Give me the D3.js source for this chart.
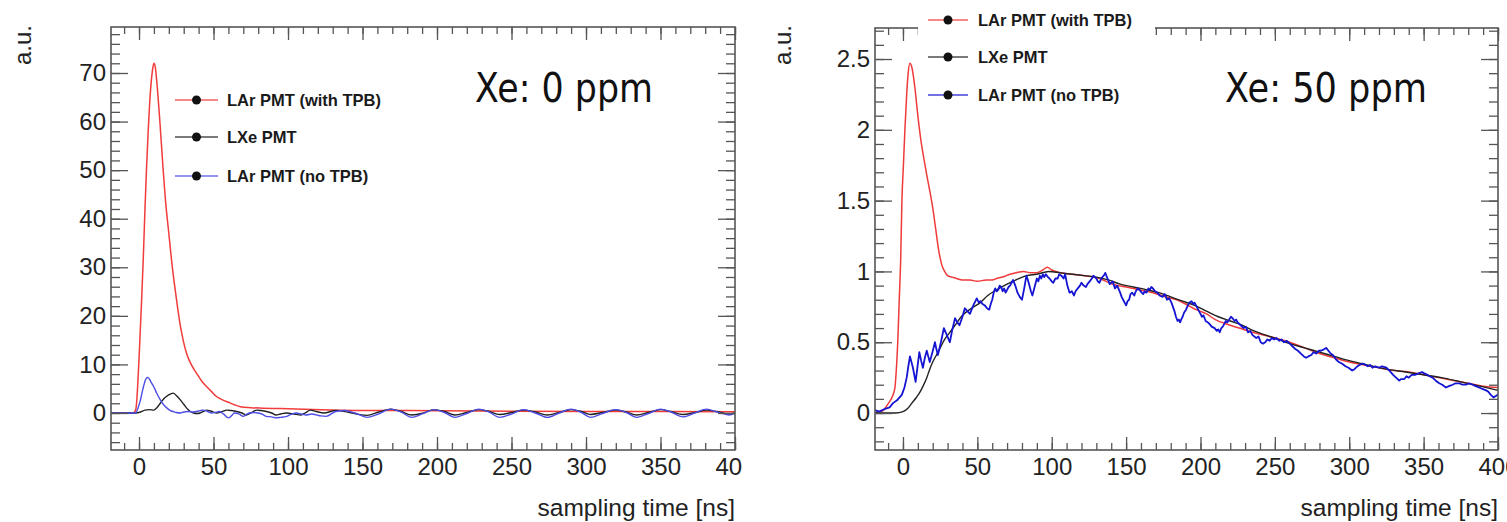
<!DOCTYPE html>
<html><head><meta charset="utf-8">
<script src="https://cdn.jsdelivr.net/npm/d3@7"></script>
<style>html,body{margin:0;padding:0;background:#fff;}svg{display:block;}</style>
</head><body>
<svg id="chart" width="1507" height="522"></svg>
<script>
// ---------------- DATA ----------------
const seriesNames = ["LAr PMT (with TPB)", "LXe PMT", "LAr PMT (no TPB)"];
const panelTitles = ["Xe: 0 ppm", "Xe: 50 ppm"];
const xTitle = "sampling time [ns]";
const yTitle = "a.u.";
const xMajorTicks = [0, 50, 100, 150, 200, 250, 300, 350, 400];
const yMajorTicks0 = [0, 10, 20, 30, 40, 50, 60, 70];
const yMajorTicks50 = [0, 0.5, 1, 1.5, 2, 2.5];

// Xe: 0 ppm
const larTpb0 = [[-18.8,0],[-10,0],[-4,0],[-3,0.2],[-2,1],[-1,5],[0,11],[1,18],[2,25],[3,33],[4,42],[5,50],[6,57],[7,63],[8,67.5],[9,70.5],[10,72],[11,71],[12,68],[14,60],[16,51],[18,43],[20,37],[22,31],[24,26],[26,21.5],[28,17.5],[30,14.5],[32,12.2],[35,10],[39,8],[42,6.6],[45.5,5.4],[49,4.3],[52,3.4],[56,2.7],[60,2.2],[64,1.7],[68,1.3],[75,1.1],[83,1],[95,0.9],[105,0.8],[128,0.6],[150,0.5],[175,0.5],[200,0.45],[250,0.35],[300,0.3],[350,0.3],[400,0.25]];
const lxe0 = [[-18.8,0],[-5,0],[-2,0],[1,0.2],[4,0.6],[7,0.7],[10,0.6],[12,1.1],[14.3,2],[16.5,2.9],[18.8,3.5],[21,3.9],[23,4.1],[25,3.6],[27.7,2.7],[30,1.8],[32,1],[34,0.4],[36.5,0],[39,-0.1],[41,0],[43,0.3],[45.5,0.6],[48,0.4],[52,0],[55,0.2],[59,0.6],[62,0.5],[65.5,0.3],[69,0],[72,-0.4],[75,0],[79,0.6],[82,0.5],[85.5,0.3],[89,0],[92,-0.4],[95,-0.2],[99,0],[104,-0.2],[108.7,-0.4],[112,0.1],[115,0.6],[119,0.3],[124,0],[132,0.5],[140,0.2],[146,-0.2],[153,-0.5],[161,0.2],[169,0.8],[176,0.3],[183,-0.4],[191,0],[198,0.7],[205,0.3],[212,-0.4],[220,0.1],[228,0.7],[235,0.3],[242,-0.3],[250,0.1],[258,0.6],[266,0.2],[274,-0.4],[282,0.1],[290,0.7],[297,0.3],[303,-0.3],[311,0.1],[320,0.6],[327,0.2],[334,-0.4],[342,0.1],[350,0.7],[357,0.3],[365,-0.3],[373,0.1],[381,0.6],[388,0.3],[396,-0.2],[400,0]];
const larNoTpb0 = [[-18.8,0],[-5,0],[-2.3,0],[-0.5,1.2],[1,2.7],[2.5,4.8],[4.3,6.8],[5.5,7.3],[6.5,7.2],[8,6.4],[9.9,5.4],[12,4],[14.3,2.7],[16.5,1.7],[18.8,1],[21,0.5],[23,0.3],[25,0.1],[27.7,0],[30,0.2],[33,0.3],[36,0.2],[38.8,0.3],[41,0.5],[43,0.6],[46,0.3],[48.8,0],[51,0.1],[54,0.3],[57,-0.3],[60,-1],[62,-0.6],[64,0],[67,-0.2],[70,-0.7],[72,-0.3],[74,0],[77,0.1],[80,0],[83,-0.3],[85.5,-0.7],[89,-0.8],[92,-1],[95,-0.9],[99,-0.7],[102,-0.3],[105.5,0],[109,-0.2],[112,-0.4],[116,-0.2],[119,-0.4],[122,-0.6],[125.5,-0.7],[132,0.3],[138,0.5],[145,0],[153,-0.9],[160,-0.3],[169,0.8],[176,0.2],[183,-0.9],[190,-0.2],[198,0.7],[205,0.1],[212,-0.9],[220,-0.1],[228,0.8],[235,0.2],[242,-0.9],[250,-0.2],[258,0.7],[266,0],[274,-0.9],[282,0],[290,0.8],[297,0.1],[303,-0.9],[311,-0.1],[320,0.7],[327,0.1],[334,-0.9],[342,-0.1],[350,0.8],[357,0.2],[365,-0.8],[373,0],[381,0.8],[388,0.2],[396,-0.4],[400,0]];

// Xe: 50 ppm
const larTpb50 = [[-18.8,0],[-15,0.01],[-13,0.02],[-11,0.05],[-9,0.08],[-7,0.12],[-5.4,0.18],[-4.5,0.3],[-3.4,0.53],[-2.5,0.8],[-1.5,1.1],[-0.7,1.5],[0.3,1.75],[1.3,2.0],[2.5,2.25],[3.5,2.4],[4.7,2.47],[6,2.44],[8,2.3],[10,2.1],[12,1.93],[14,1.8],[16,1.68],[18,1.57],[20,1.45],[22,1.3],[24,1.15],[26,1.05],[28,1.0],[30,0.97],[33,0.96],[36,0.95],[40,0.94],[45,0.94],[50,0.93],[56,0.94],[60,0.94],[63,0.95],[67,0.96],[72,0.98],[76,0.99],[81,1.0],[86,0.99],[90,0.99],[94,1.01],[97,1.03],[100,1.01],[106,0.99],[114,0.98],[122,0.97],[132,0.95],[141,0.91],[150,0.89],[159,0.87],[168,0.85],[177,0.82],[184,0.8],[190,0.77],[197,0.73],[204,0.7],[210,0.66],[217,0.63],[226,0.6],[235,0.57],[243,0.55],[250,0.53],[260,0.5],[270,0.46],[280,0.42],[290,0.39],[300,0.36],[310,0.34],[320,0.32],[330,0.3],[340,0.29],[350,0.27],[360,0.25],[370,0.23],[380,0.21],[390,0.19],[400,0.18]];
const lxe50 = [[-18.8,0],[-5,0],[0,0.01],[3,0.03],[6,0.07],[9,0.11],[11,0.14],[13.5,0.19],[16,0.25],[18,0.31],[20,0.36],[22.5,0.41],[25,0.46],[28,0.52],[31.5,0.57],[35,0.62],[40,0.69],[46,0.74],[52,0.78],[57,0.83],[63,0.87],[70,0.91],[76,0.94],[83,0.97],[90,0.98],[98,1.0],[106,0.99],[114,0.98],[122,0.97],[130,0.96],[138,0.94],[146,0.91],[155,0.89],[164,0.87],[172,0.85],[180,0.82],[188,0.79],[196,0.76],[204,0.72],[212,0.68],[220,0.65],[228,0.62],[236,0.58],[244,0.55],[252,0.52],[260,0.49],[270,0.46],[280,0.43],[290,0.4],[300,0.37],[312,0.34],[325,0.31],[338,0.29],[350,0.27],[362,0.25],[375,0.22],[388,0.19],[400,0.16]];
const larNoTpb50 = [[-18.8,0.02],[-16,0.01],[-12,0.03],[-9,0.04],[-6.7,0.07],[-4,0.09],[-0.7,0.13],[1,0.18],[2.5,0.25],[3.6,0.33],[4.7,0.4],[5.7,0.36],[6.7,0.32],[7.6,0.27],[8.5,0.22],[9.8,0.33],[11,0.43],[12.2,0.37],[13.4,0.32],[14.7,0.39],[16,0.44],[17,0.4],[18,0.36],[19.8,0.43],[21.5,0.5],[22.5,0.45],[23.5,0.41],[25.5,0.5],[27.5,0.6],[29.5,0.55],[31.5,0.5],[33,0.58],[35,0.67],[36.5,0.64],[38,0.62],[40,0.68],[41.6,0.74],[43.3,0.72],[45,0.7],[47.3,0.76],[49.6,0.81],[51,0.78],[52,0.79],[53.5,0.77],[55,0.76],[56.5,0.74],[58,0.73],[59,0.77],[60,0.8],[61,0.85],[62,0.88],[63,0.86],[64,0.87],[65,0.9],[66,0.89],[67,0.86],[68,0.88],[69,0.85],[70,0.87],[71,0.89],[72,0.9],[73,0.92],[74,0.94],[75.5,0.9],[77,0.85],[78.5,0.82],[80,0.8],[81.5,0.88],[83,0.97],[84,0.94],[85,0.9],[86,0.86],[87,0.83],[88.5,0.89],[90,0.95],[91,0.93],[92,0.97],[93,0.95],[94,0.98],[95,0.96],[96,0.98],[97.5,0.96],[98.5,0.95],[100,0.93],[101,0.92],[102.5,0.95],[104,0.95],[105,0.98],[106.5,0.97],[108,0.95],[109,0.98],[110.5,0.9],[112,0.85],[113.5,0.86],[115,0.83],[116,0.86],[117.5,0.88],[119,0.9],[120,0.92],[121.5,0.9],[123,0.89],[124,0.91],[125.5,0.93],[127,0.95],[128,0.97],[129,0.96],[130,0.95],[131,0.93],[132,0.92],[133,0.94],[134,0.96],[135,0.97],[136,0.99],[137.5,0.95],[139,0.91],[141,0.93],[142.5,0.88],[144,0.9],[146,0.85],[147,0.82],[148,0.8],[149,0.78],[150,0.76],[151,0.79],[152,0.8],[153,0.84],[154,0.85],[155.5,0.83],[156.5,0.86],[158,0.88],[159,0.87],[160.5,0.85],[161.5,0.84],[162.5,0.86],[163.7,0.85],[165,0.88],[166,0.87],[167,0.89],[168,0.88],[169.5,0.86],[171,0.85],[172.5,0.83],[174.5,0.82],[176,0.84],[177.5,0.8],[179,0.81],[180.5,0.78],[181.5,0.75],[182.5,0.72],[183.5,0.68],[184.6,0.65],[185.5,0.66],[186.3,0.64],[187,0.66],[188,0.68],[189,0.71],[190.3,0.73],[191.5,0.76],[192.6,0.78],[194,0.79],[195,0.77],[196,0.78],[197,0.76],[198,0.74],[199,0.72],[200,0.7],[201,0.68],[202,0.69],[203.5,0.65],[205,0.64],[206,0.63],[207.5,0.61],[209.5,0.6],[211,0.58],[212,0.59],[213,0.57],[214,0.6],[215,0.61],[216,0.63],[217,0.65],[218,0.64],[219.3,0.66],[220.5,0.68],[221.5,0.67],[223,0.65],[224,0.66],[225,0.64],[227,0.62],[229,0.6],[230.5,0.61],[232,0.57],[233.5,0.58],[235,0.55],[237.5,0.53],[239,0.54],[240.5,0.5],[242,0.49],[243.5,0.5],[245,0.52],[246.5,0.51],[248,0.53],[249.5,0.52],[251,0.53],[253,0.51],[254.5,0.52],[256,0.5],[258,0.51],[260,0.49],[262,0.47],[264,0.45],[265.5,0.44],[267.5,0.42],[269.5,0.4],[271,0.39],[272.5,0.4],[274.5,0.41],[276,0.43],[278,0.42],[279.5,0.44],[281,0.44],[283,0.45],[284.5,0.46],[286,0.44],[287.5,0.42],[289,0.41],[291,0.38],[293,0.36],[295,0.35],[297.5,0.33],[299.5,0.32],[302,0.3],[303.5,0.31],[305.5,0.33],[307,0.34],[309,0.35],[311,0.34],[312.5,0.33],[314,0.34],[315.6,0.32],[317.5,0.33],[320,0.32],[322,0.33],[325,0.32],[327,0.3],[329.5,0.27],[331.5,0.25],[333.6,0.23],[335,0.24],[337,0.24],[338.5,0.26],[340,0.25],[342,0.27],[344.5,0.27],[346.5,0.28],[349,0.29],[350.5,0.28],[352.5,0.27],[354,0.26],[356,0.25],[358,0.23],[360.5,0.21],[362.5,0.2],[365,0.18],[367,0.19],[369.5,0.2],[371.5,0.21],[374,0.21],[376,0.2],[378.5,0.2],[380.5,0.21],[383,0.2],[385,0.19],[387.5,0.18],[389.5,0.17],[392,0.16],[393.5,0.15],[395,0.13],[397,0.11],[398.5,0.12],[400,0.13]];

// ---------------- DRAW ----------------
const svg = d3.select("#chart");
const defs = svg.append("defs");

const panels = [
  { id: "p0", title: panelTitles[0], series: [larTpb0, lxe0, larNoTpb0],
    frame: {x0: 111, x1: 735, y0: 27, y1: 450}, xDomain: [-18.8, 400], yDomain: [-7.62, 79.47],
    yMajor: yMajorTicks0, yMinorCount: 44, clipLeft: 0, clipRight: 743,
    colors: ["#f23b3b", "#222222", "#4d4de6"], widths: [1.5, 1.4, 1.4], curves: [d3.curveMonotoneX, d3.curveMonotoneX, d3.curveMonotoneX],
    legend: {x1: 175, x2: 218, xt: 227, ys: [100, 137, 176], bg: null},
    titlePos: {x: 475, y: 102, len: 178}, yTitlePos: {x: 31, y: 25} },
  { id: "p1", title: panelTitles[1], series: [larTpb50, lxe50, larNoTpb50],
    frame: {x0: 875, x1: 1498, y0: 28, y1: 450}, xDomain: [-18.8, 400], yDomain: [-0.261, 2.719],
    yMajor: yMajorTicks50, yMinorCount: 30, clipLeft: 750, clipRight: 1507,
    colors: ["#f03a3a", "#222222", "#1414d2"], widths: [1.5, 1.4, 1.8], curves: [d3.curveMonotoneX, d3.curveMonotoneX, d3.curveLinear],
    legend: {x1: 928, x2: 968, xt: 978, ys: [20, 57, 95], bg: {x: 918, y: 0, w: 237, h: 110}},
    titlePos: {x: 1225, y: 102, len: 202}, yTitlePos: {x: 791, y: 25} }
];

const tickFont = "'Liberation Sans', Arial, Helvetica, sans-serif";

panels.forEach((p) => {
  const f = p.frame;
  defs.append("clipPath").attr("id", "clip-" + p.id)
    .append("rect").attr("x", p.clipLeft).attr("y", 0)
    .attr("width", p.clipRight - p.clipLeft).attr("height", 522);
  defs.append("clipPath").attr("id", "plot-" + p.id)
    .append("rect").attr("x", f.x0).attr("y", f.y0).attr("width", f.x1 - f.x0).attr("height", f.y1 - f.y0);

  const g = svg.append("g").attr("clip-path", `url(#clip-${p.id})`);
  const x = d3.scaleLinear().domain(p.xDomain).range([f.x0, f.x1]);
  const y = d3.scaleLinear().domain(p.yDomain).range([f.y1, f.y0]);

  // data lines
  const plot = g.append("g").attr("clip-path", `url(#plot-${p.id})`);
  p.series.forEach((s, i) => {
    const line = d3.line().x(d => x(d[0])).y(d => y(d[1])).curve(p.curves[i]);
    plot.append("path").datum(s).attr("d", line)
      .attr("fill", "none").attr("stroke", p.colors[i]).attr("stroke-width", p.widths[i])
      .attr("stroke-linejoin", "round");
  });

  // axes (ticks inside frame, ROOT style)
  const axisColor = "#555";
  const xMinor = x.ticks(42).filter(v => v >= p.xDomain[0] && v <= p.xDomain[1]);
  const yMinor = y.ticks(p.yMinorCount);
  function styleAxis(sel) {
    sel.select(".domain").remove();
    sel.selectAll(".tick line").attr("stroke", axisColor).attr("stroke-width", 1.3);
    sel.selectAll(".tick text").attr("fill", "#222").style("font-family", tickFont).style("font-size", "24px");
  }
  const fmt = d3.format("~g");
  // bottom
  g.append("g").attr("transform", `translate(0,${f.y1})`)
    .call(d3.axisBottom(x).tickValues(xMinor).tickSize(-7).tickFormat("")).call(styleAxis);
  g.append("g").attr("transform", `translate(0,${f.y1})`)
    .call(d3.axisBottom(x).tickValues(xMajorTicks).tickSize(-13).tickPadding(8).tickFormat(fmt)).call(styleAxis);
  // top
  g.append("g").attr("transform", `translate(0,${f.y0})`)
    .call(d3.axisTop(x).tickValues(xMinor).tickSize(-7).tickFormat("")).call(styleAxis);
  g.append("g").attr("transform", `translate(0,${f.y0})`)
    .call(d3.axisTop(x).tickValues(xMajorTicks).tickSize(-13).tickFormat("")).call(styleAxis);
  // left
  g.append("g").attr("transform", `translate(${f.x0},0)`)
    .call(d3.axisLeft(y).tickValues(yMinor).tickSize(-9).tickFormat("")).call(styleAxis);
  g.append("g").attr("transform", `translate(${f.x0},0)`)
    .call(d3.axisLeft(y).tickValues(p.yMajor).tickSize(-17).tickPadding(5).tickFormat(fmt)).call(styleAxis);
  // right
  g.append("g").attr("transform", `translate(${f.x1},0)`)
    .call(d3.axisRight(y).tickValues(yMinor).tickSize(-9).tickFormat("")).call(styleAxis);
  g.append("g").attr("transform", `translate(${f.x1},0)`)
    .call(d3.axisRight(y).tickValues(p.yMajor).tickSize(-17).tickFormat("")).call(styleAxis);

  // frame
  g.append("rect").attr("x", f.x0).attr("y", f.y0).attr("width", f.x1 - f.x0).attr("height", f.y1 - f.y0)
    .attr("fill", "none").attr("stroke", axisColor).attr("stroke-width", 1.6);

  // axis titles
  g.append("text").attr("x", f.x1).attr("y", 516).attr("text-anchor", "end")
    .style("font-family", tickFont).style("font-size", "24.5px").attr("fill", "#222").text(xTitle);
  g.append("text").attr("transform", `translate(${p.yTitlePos.x},${p.yTitlePos.y}) rotate(-90)`)
    .attr("text-anchor", "end").style("font-family", tickFont).style("font-size", "24px").attr("fill", "#222").text(yTitle);

  // legend
  const L = p.legend;
  if (L.bg) g.append("rect").attr("x", L.bg.x).attr("y", L.bg.y).attr("width", L.bg.w).attr("height", L.bg.h).attr("fill", "#fff");
  seriesNames.forEach((name, i) => {
    const ly = L.ys[i];
    g.append("line").attr("x1", L.x1).attr("x2", L.x2).attr("y1", ly).attr("y2", ly)
      .attr("stroke", p.colors[i]).attr("stroke-width", 1.3).attr("opacity", 0.8);
    g.append("circle").attr("cx", (L.x1 + L.x2) / 2).attr("cy", ly).attr("r", 4.5).attr("fill", "#111");
    g.append("text").attr("x", L.xt).attr("y", ly).attr("dy", "0.36em")
      .style("font-family", tickFont).style("font-size", "16.5px").style("font-weight", "bold")
      .attr("fill", "#1a1a1a").text(name);
  });

  // panel annotation
  g.append("text").attr("x", p.titlePos.x).attr("y", p.titlePos.y)
    .attr("textLength", p.titlePos.len).attr("lengthAdjust", "spacingAndGlyphs")
    .style("font-family", "'DejaVu Sans', sans-serif").style("font-size", "40px").attr("fill", "#111")
    .text(p.title);
});
</script>
</body></html>
